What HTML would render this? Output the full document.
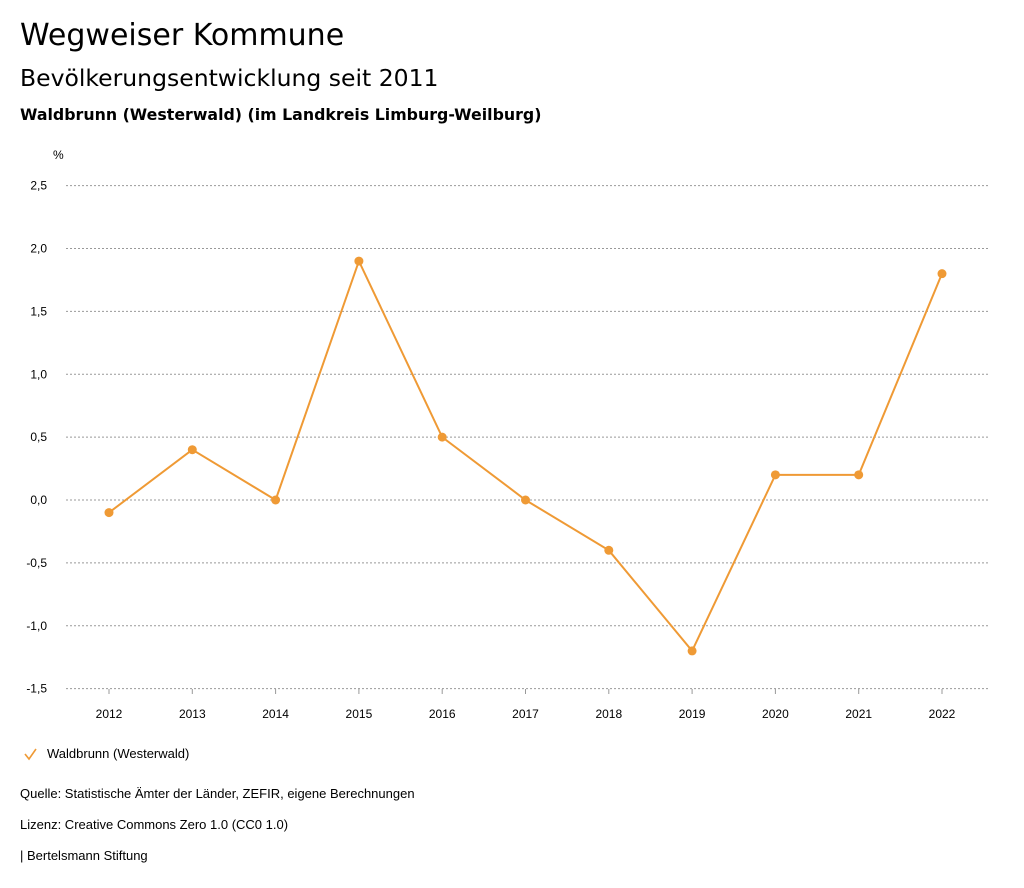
<!DOCTYPE html>
<html><head><meta charset="utf-8"><style>
body{margin:0;background:#fff;font-family:"Liberation Sans",sans-serif;color:#000;}
.wrap{position:relative;width:1024px;height:888px;overflow:hidden;}
.t{position:absolute;left:20px;white-space:nowrap;}
.d{font-family:"DejaVu Sans",sans-serif;}
</style></head><body><div class="wrap">
<div class="t d" style="top:18px;font-size:30px">Wegweiser Kommune</div>
<div class="t d" style="top:64px;font-size:23.5px">Bevölkerungsentwicklung seit 2011</div>
<div class="t d" style="top:105px;font-size:15.8px;font-weight:bold">Waldbrunn (Westerwald) (im Landkreis Limburg-Weilburg)</div>
<svg id="c" width="1024" height="888" style="position:absolute;left:0;top:0"></svg>
<div class="t" style="top:746px;left:47px;font-size:13px">Waldbrunn (Westerwald)</div>
<div class="t" style="top:786px;font-size:13px">Quelle: Statistische Ämter der Länder, ZEFIR, eigene Berechnungen</div>
<div class="t" style="top:817px;font-size:13px">Lizenz: Creative Commons Zero 1.0 (CC0 1.0)</div>
<div class="t" style="top:848px;font-size:13px">| Bertelsmann Stiftung</div>
</div>
<script>
const years=["2012","2013","2014","2015","2016","2017","2018","2019","2020","2021","2022"];
const values=[-0.1,0.4,0.0,1.9,0.5,0.0,-0.4,-1.2,0.2,0.2,1.8];
const yTicks=[2.5,2.0,1.5,1.0,0.5,0.0,-0.5,-1.0,-1.5];
const NS="http://www.w3.org/2000/svg",svg=document.getElementById('c');
const y=v=>500-v*125.75, x=i=>109+i*83.3;
function mk(t,a,txt){const e=document.createElementNS(NS,t);for(const k in a)e.setAttribute(k,a[k]);if(txt!=null)e.textContent=txt;svg.appendChild(e);return e;}
let u=mk('text',{x:53,y:159,'font-size':12,'font-family':'Liberation Sans'},'%');


yTicks.forEach(v=>{
 const g=mk('line',{x1:66,x2:990,y1:y(v),y2:y(v),stroke:'#999','stroke-dasharray':'2,2','stroke-width':1});
 
 
 const t=mk('text',{x:47,y:y(v)+4,'text-anchor':'end','font-size':12,'font-family':'Liberation Sans'},v.toFixed(1).replace('.',','));
 
 
});
years.forEach((yr,i)=>{
 const l=mk('line',{x1:x(i),x2:x(i),y1:689,y2:694,stroke:'#999'});
 
 
 const t=mk('text',{x:x(i),y:718,'text-anchor':'middle','font-size':12,'font-family':'Liberation Sans'},yr);
 
 
});
const p=mk('polyline',{points:values.map((v,i)=>x(i)+','+y(v)).join(' '),fill:'none',stroke:'#ef9a35','stroke-width':2});


values.forEach((v,i)=>{
 const c=mk('circle',{cx:x(i),cy:y(v),r:4.5,fill:'#ef9a35'});
 
 
});
const ck=mk('polyline',{points:'25,754 29,759 36,749',fill:'none',stroke:'#ef9a35','stroke-width':1.6});


</script></body></html>
